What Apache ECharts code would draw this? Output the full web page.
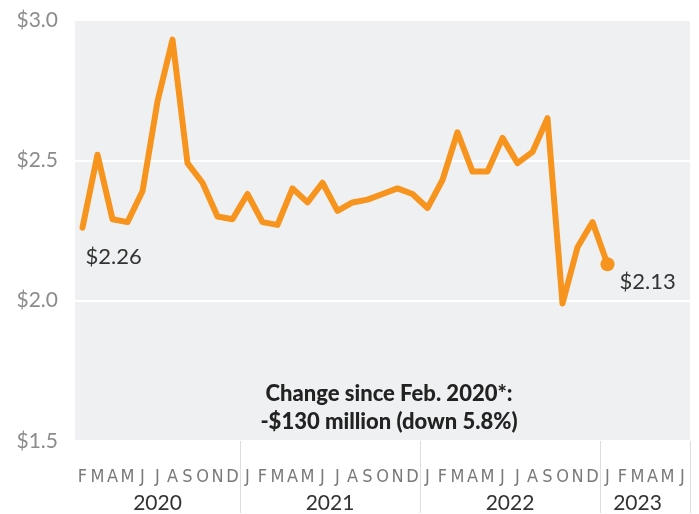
<!DOCTYPE html>
<html>
<head>
<meta charset="utf-8">
<script src="https://cdn.jsdelivr.net/npm/echarts@6/dist/echarts.min.js"></script>
<style>
  html, body { margin: 0; padding: 0; background: #fff; }
  #chart { width: 699px; height: 514px; }
</style>
</head>
<body>
<div id="chart"></div>
<script>
// month ticks, Feb 2020 .. Jun 2023
var months = [
  'F','M','A','M','J','J','A','S','O','N','D',
  'J','F','M','A','M','J','J','A','S','O','N','D',
  'J','F','M','A','M','J','J','A','S','O','N','D',
  'J','F','M','A','M','J'
];
// values in $ billions
var values = [
  2.26, 2.52, 2.29, 2.28, 2.39, 2.71, 2.93, 2.49, 2.42, 2.30, 2.29,
  2.38, 2.28, 2.27, 2.40, 2.35, 2.42, 2.32, 2.35, 2.36, 2.38, 2.40, 2.38,
  2.33, 2.43, 2.60, 2.46, 2.46, 2.58, 2.49, 2.53, 2.65, 1.99, 2.19, 2.28,
  2.13, null, null, null, null, null
];
var years = ['2020', '2021', '2022', '2023'];
// where each year label sits, in half-month steps along the axis
var yearSlots = [11, 34, 58, 75];
// first month index of each new year (separator lines)
var yearStarts = [11, 23, 35];

var lastIdx = 35;

var seriesData = values.map(function (v, i) {
  var item = { value: v, symbolSize: 0 };
  if (i === 0) {
    item.label = {
      show: true, position: 'bottom', distance: 18, align: 'left', offset: [3, 0],
      formatter: '$2.26'
    };
  }
  if (i === lastIdx) {
    item.symbolSize = 14;
    item.label = {
      show: true, position: 'right', distance: 5, offset: [0, 18],
      formatter: '$2.13'
    };
  }
  return item;
});

var yearAxisData = [];
for (var k = 0; k <= months.length * 2; k++) yearAxisData.push('');
yearSlots.forEach(function (s, i) { yearAxisData[s] = years[i]; });

var myChart = echarts.init(document.getElementById('chart'));
myChart.setOption({
  animation: false,
  title: {
    text: 'Change since Feb. 2020*:\n-$130 million (down 5.8%)',
    left: 384,
    top: 375,
    textAlign: 'center',
    textStyle: {
      fontFamily: 'Lato',
      fontWeight: 900,
      fontSize: 22,
      lineHeight: 28,
      color: '#222'
    }
  },
  grid: {
    left: 75,
    right: 9,
    top: 20,
    bottom: 72,
    show: true,
    backgroundColor: '#eff0f2',
    borderWidth: 0
  },
  xAxis: [
    {
      type: 'category',
      data: months,
      boundaryGap: true,
      axisLine: { show: false },
      axisTick: {
        show: true,
        length: 72,
        interval: function (index) { return yearStarts.indexOf(index) >= 0; },
        lineStyle: { color: '#dddddd', width: 1 }
      },
      axisLabel: {
        interval: 0,
        margin: 27,
        fontFamily: '"Liberation Sans Narrow", "DejaVu Sans Condensed", "Roboto Condensed", sans-serif',
        fontSize: 18,
        color: '#7a7a7a'
      },
      splitLine: { show: false }
    },
    {
      type: 'category',
      data: yearAxisData,
      boundaryGap: false,
      position: 'bottom',
      axisLine: { show: false },
      axisTick: { show: false },
      axisLabel: {
        interval: 0,
        margin: 52,
        fontFamily: 'Lato',
        fontSize: 21,
        color: '#333'
      }
    }
  ],
  yAxis: {
    type: 'value',
    min: 1.5,
    max: 3.0,
    interval: 0.5,
    axisLine: { show: false },
    axisTick: { show: false },
    axisLabel: {
      margin: 17,
      padding: [8, 0, 0, 0],
      fontFamily: 'Lato',
      fontSize: 21,
      color: '#8c8c8c',
      formatter: function (v) { return '$' + v.toFixed(1); }
    },
    splitLine: { lineStyle: { color: '#ffffff', width: 2 } }
  },
  series: [
    {
      type: 'line',
      data: seriesData,
      symbol: 'circle',
      showSymbol: true,
      itemStyle: { color: '#f7941d' },
      lineStyle: { color: '#f7941d', width: 6, join: 'round', cap: 'round' },
      label: {
        fontFamily: 'Lato',
        fontSize: 22,
        color: '#333'
      },
      emphasis: { disabled: true }
    }
  ]
});
</script>
</body>
</html>
